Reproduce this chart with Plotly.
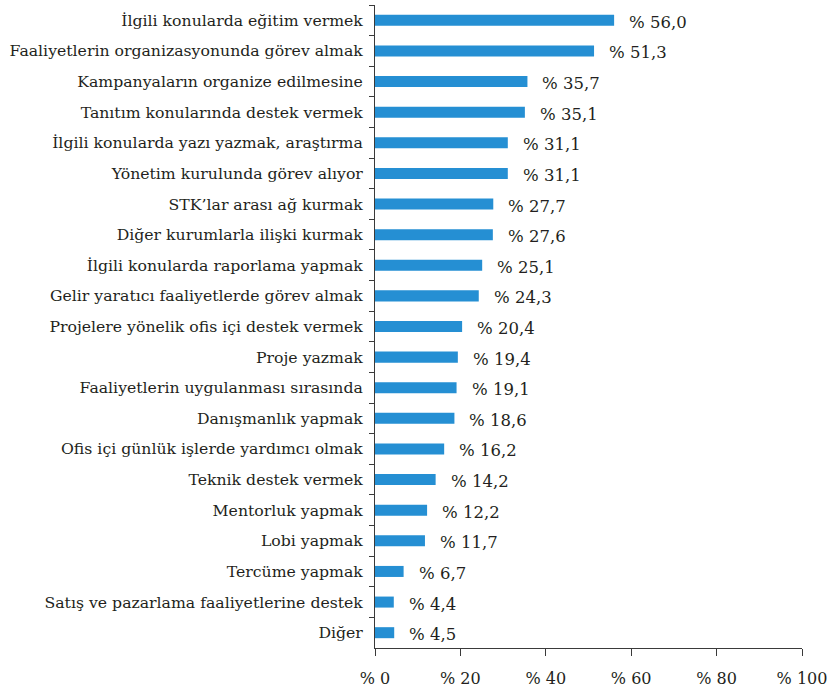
import plotly.graph_objects as go

categories = [
    "İlgili konularda eğitim vermek",
    "Faaliyetlerin organizasyonunda görev almak",
    "Kampanyaların organize edilmesine",
    "Tanıtım konularında destek vermek",
    "İlgili konularda yazı yazmak, araştırma",
    "Yönetim kurulunda görev alıyor",
    "STK’lar arası ağ kurmak",
    "Diğer kurumlarla ilişki kurmak",
    "İlgili konularda raporlama yapmak",
    "Gelir yaratıcı faaliyetlerde görev almak",
    "Projelere yönelik ofis içi destek vermek",
    "Proje yazmak",
    "Faaliyetlerin uygulanması sırasında",
    "Danışmanlık yapmak",
    "Ofis içi günlük işlerde yardımcı olmak",
    "Teknik destek vermek",
    "Mentorluk yapmak",
    "Lobi yapmak",
    "Tercüme yapmak",
    "Satış ve pazarlama faaliyetlerine destek",
    "Diğer",
]
values = [56.0, 51.3, 35.7, 35.1, 31.1, 31.1, 27.7, 27.6, 25.1, 24.3, 20.4,
          19.4, 19.1, 18.6, 16.2, 14.2, 12.2, 11.7, 6.7, 4.4, 4.5]
value_labels = ["% " + f"{v:.1f}".replace(".", ",") for v in values]
tick_vals = [0, 20, 40, 60, 80, 100]
tick_text = ["% " + str(t) for t in tick_vals]

FONT = "DejaVu Serif"
TXT = "#231f20"
AXIS = "#3a3a3a"

fig = go.Figure()
fig.add_trace(go.Bar(
    x=values, y=categories, orientation="h",
    marker=dict(color="#258fd3", line=dict(width=0)),
    width=0.36,
))
for c, v, t in zip(categories, values, value_labels):
    fig.add_annotation(x=v, y=c, text=t, showarrow=False, xanchor="left",
                       xshift=13, yshift=-2, font=dict(family=FONT, size=16.5, color=TXT))

fig.update_layout(
    width=828, height=689,
    margin=dict(l=375, r=26, t=5, b=41, autoexpand=False),
    paper_bgcolor="white", plot_bgcolor="white",
    showlegend=False,
    font=dict(family=FONT, size=15.7, color=TXT),
    bargap=0.64,
)
fig.update_xaxes(
    range=[0, 100], tickvals=tick_vals, ticktext=tick_text,
    showgrid=False, zeroline=False, showline=True, linecolor=AXIS, linewidth=1,
    ticks="outside", ticklen=7, tickcolor=AXIS,
    ticklabelstandoff=9, automargin=False,
    tickfont=dict(family=FONT, size=16, color=TXT),
)
fig.update_yaxes(
    autorange="reversed", showgrid=False, zeroline=False,
    showline=True, linecolor=AXIS, linewidth=1,
    ticks="outside", ticklen=5, tickcolor=AXIS, tickson="boundaries",
    ticklabelstandoff=8, automargin=False,
    tickfont=dict(family=FONT, size=15.7, color=TXT),
)
fig.write_html("out.html", config={"displayModeBar": False},
               post_script="document.body.style.margin='0';document.body.style.padding='0';")
